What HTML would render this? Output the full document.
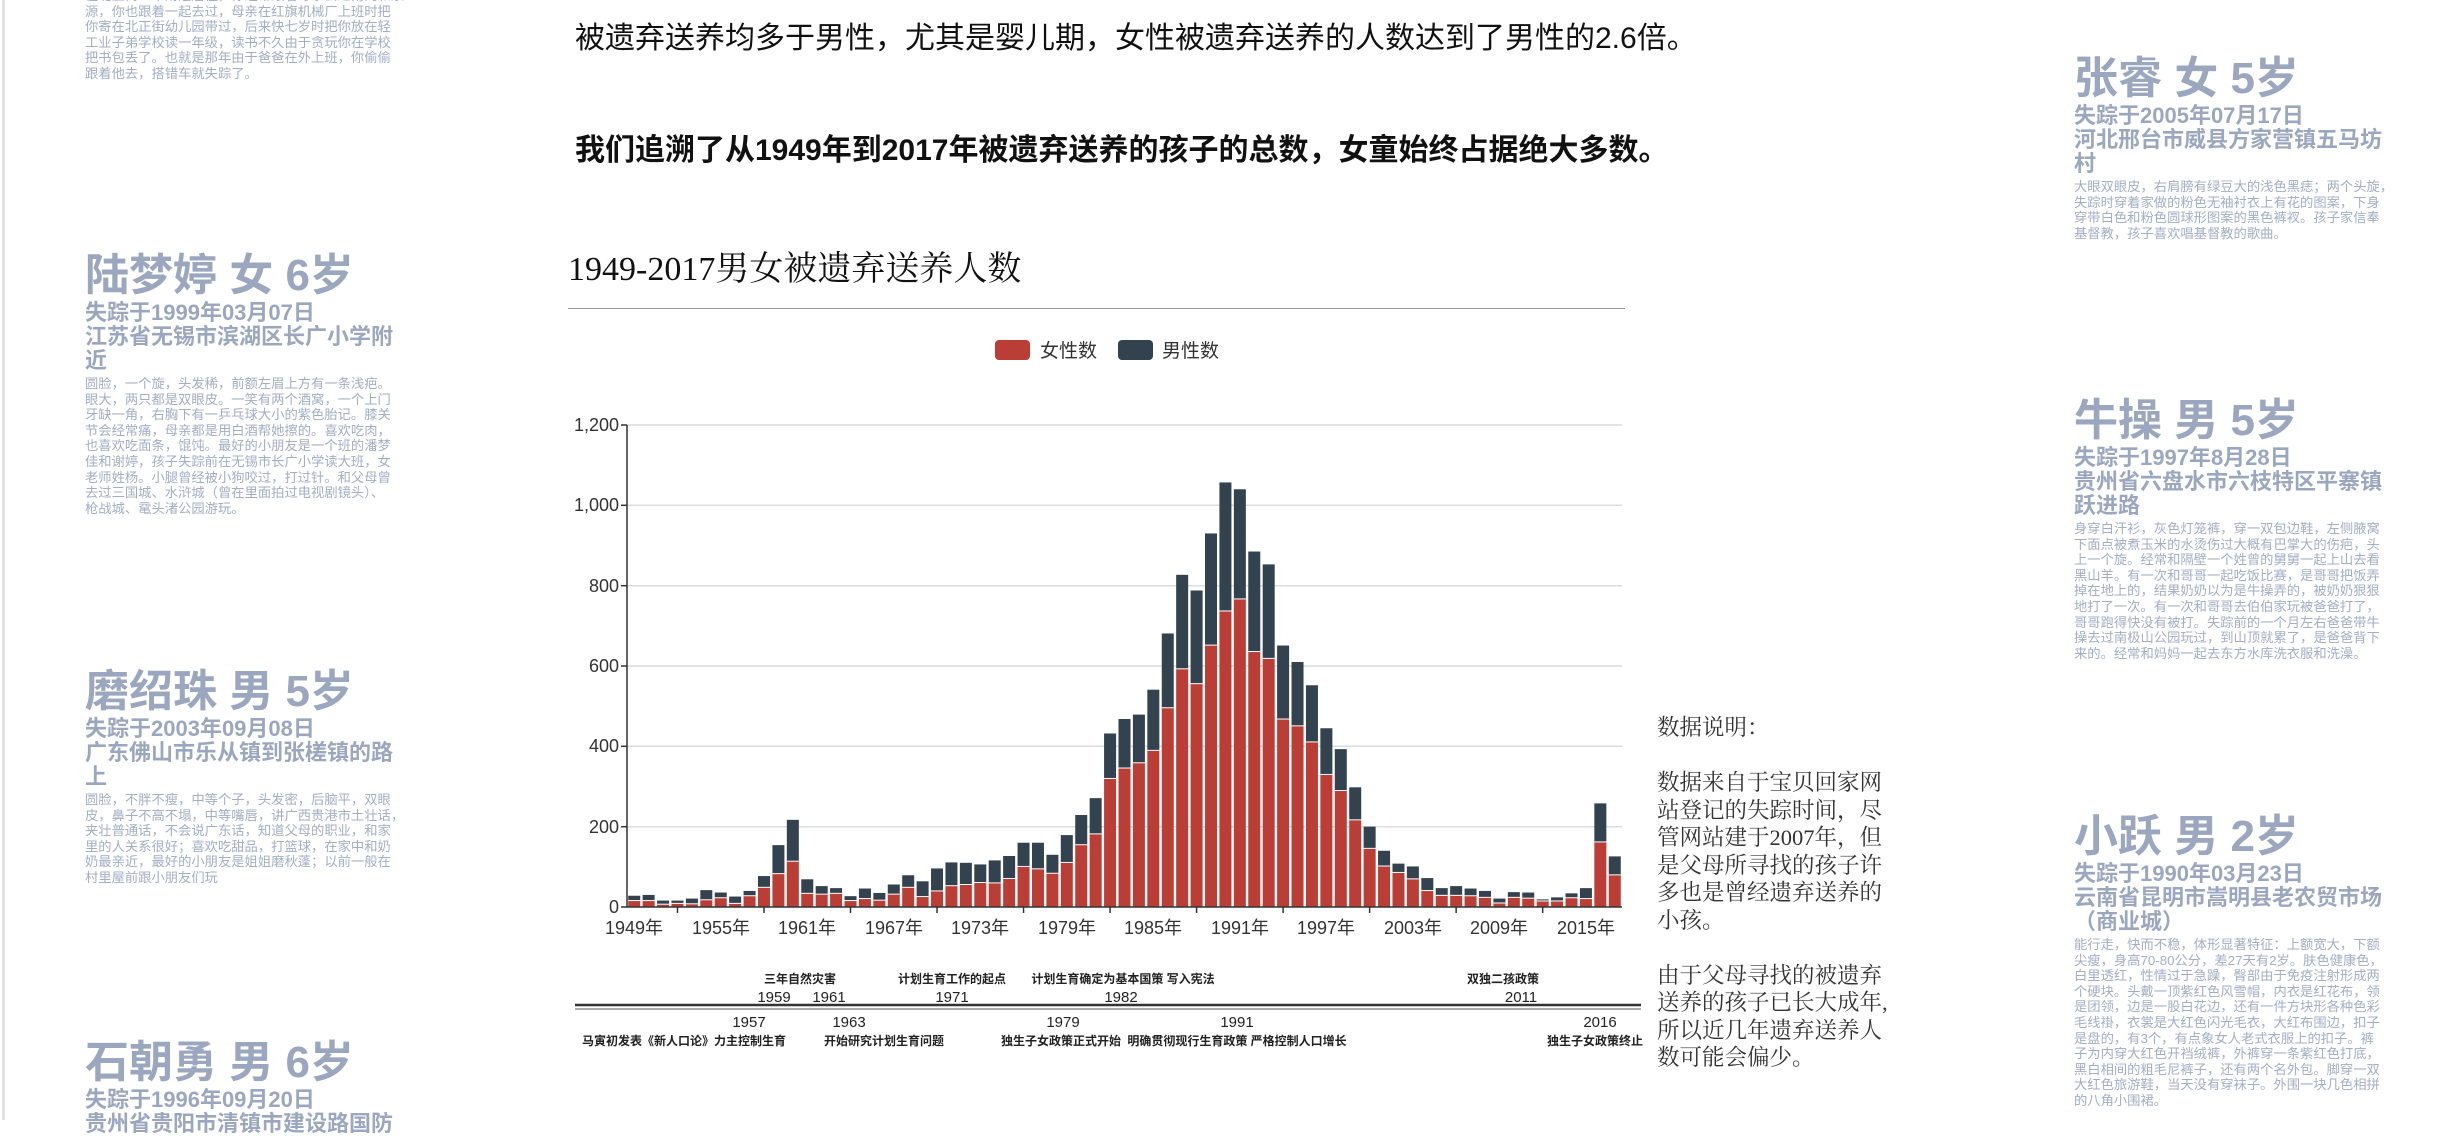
<!DOCTYPE html>
<html><head><meta charset="utf-8">
<style>
html,body{margin:0;padding:0;background:#fff;}
body{width:2462px;height:1120px;position:relative;overflow:hidden;font-family:"Liberation Sans","Noto Sans CJK SC",sans-serif;}
.blk{position:absolute;width:308px;color:#9ba7bf;}
.nm{font-size:44px;font-weight:bold;line-height:50px;white-space:nowrap;}
.sb{font-size:22px;font-weight:bold;line-height:24px;}
.bd{font-size:13.3px;line-height:15.6px;margin-top:3px;color:#a3aec4;white-space:nowrap;}
.main{position:absolute;left:575px;font-size:30px;color:#111;white-space:nowrap;line-height:40px;}
.note{position:absolute;left:1657px;top:714px;font-family:"Liberation Serif","Noto Serif CJK SC",serif;font-size:22.5px;line-height:27.5px;color:#333;white-space:nowrap;}
</style></head><body>
<div style="position:absolute;left:2px;top:0;width:3px;height:1120px;background:#e2e2e2"></div>

<div class="blk" style="left:85px;top:-12px"><div class="bd" style="margin:0">在北正街一带附近居住，你经常跟着母亲去过南门和泉<br>源，你也跟着一起去过，母亲在红旗机械厂上班时把<br>你寄在北正街幼儿园带过，后来快七岁时把你放在轻<br>工业子弟学校读一年级，读书不久由于贪玩你在学校<br>把书包丢了。也就是那年由于爸爸在外上班，你偷偷<br>跟着他去，搭错车就失踪了。</div></div>

<div class="blk" style="left:85px;top:251px"><div class="nm">陆梦婷 女 6岁</div><div class="sb">失踪于1999年03月07日</div><div class="sb">江苏省无锡市滨湖区长广小学附<br>近</div><div class="bd">圆脸，一个旋，头发稀，前额左眉上方有一条浅疤。<br>眼大，两只都是双眼皮。一笑有两个酒窝，一个上门<br>牙缺一角，右胸下有一乒乓球大小的紫色胎记。膝关<br>节会经常痛，母亲都是用白酒帮她擦的。喜欢吃肉，<br>也喜欢吃面条，馄饨。最好的小朋友是一个班的潘梦<br>佳和谢婷，孩子失踪前在无锡市长广小学读大班，女<br>老师姓杨。小腿曾经被小狗咬过，打过针。和父母曾<br>去过三国城、水浒城（曾在里面拍过电视剧镜头）、<br>枪战城、鼋头渚公园游玩。</div></div>

<div class="blk" style="left:85px;top:667px"><div class="nm">磨绍珠 男 5岁</div><div class="sb">失踪于2003年09月08日</div><div class="sb">广东佛山市乐从镇到张槎镇的路<br>上</div><div class="bd">圆脸，不胖不瘦，中等个子，头发密，后脑平，双眼<br>皮，鼻子不高不塌，中等嘴唇，讲广西贵港市土壮话，<br>夹壮普通话，不会说广东话，知道父母的职业，和家<br>里的人关系很好；喜欢吃甜品，打篮球，在家中和奶<br>奶最亲近，最好的小朋友是姐姐磨秋蓬；以前一般在<br>村里屋前跟小朋友们玩</div></div>

<div class="blk" style="left:85px;top:1038px"><div class="nm">石朝勇 男 6岁</div><div class="sb">失踪于1996年09月20日</div><div class="sb">贵州省贵阳市清镇市建设路国防</div></div>

<div class="blk" style="left:2074px;top:54px"><div class="nm">张睿 女 5岁</div><div class="sb">失踪于2005年07月17日</div><div class="sb">河北邢台市威县方家营镇五马坊<br>村</div><div class="bd">大眼双眼皮，右肩膀有绿豆大的浅色黑痣；两个头旋，<br>失踪时穿着家做的粉色无袖衬衣上有花的图案，下身<br>穿带白色和粉色圆球形图案的黑色裤衩。孩子家信奉<br>基督教，孩子喜欢唱基督教的歌曲。</div></div>

<div class="blk" style="left:2074px;top:396px"><div class="nm">牛操 男 5岁</div><div class="sb">失踪于1997年8月28日</div><div class="sb">贵州省六盘水市六枝特区平寨镇<br>跃进路</div><div class="bd">身穿白汗衫，灰色灯笼裤，穿一双包边鞋，左侧腋窝<br>下面点被煮玉米的水烫伤过大概有巴掌大的伤疤，头<br>上一个旋。经常和隔壁一个姓曾的舅舅一起上山去看<br>黑山羊。有一次和哥哥一起吃饭比赛，是哥哥把饭弄<br>掉在地上的，结果奶奶以为是牛操弄的，被奶奶狠狠<br>地打了一次。有一次和哥哥去伯伯家玩被爸爸打了，<br>哥哥跑得快没有被打。失踪前的一个月左右爸爸带牛<br>操去过南极山公园玩过，到山顶就累了，是爸爸背下<br>来的。经常和妈妈一起去东方水库洗衣服和洗澡。</div></div>

<div class="blk" style="left:2074px;top:812px"><div class="nm">小跃 男 2岁</div><div class="sb">失踪于1990年03月23日</div><div class="sb">云南省昆明市嵩明县老农贸市场<br>（商业城）</div><div class="bd">能行走，快而不稳，体形显著特征：上额宽大，下额<br>尖瘦，身高70-80公分，差27天有2岁。肤色健康色，<br>白里透红，性情过于急躁，臀部由于免疫注射形成两<br>个硬块。头戴一顶紫红色风雪帽，内衣是红花布，领<br>是团领，边是一股白花边，还有一件方块形各种色彩<br>毛线褂，衣裳是大红色闪光毛衣，大红布围边，扣子<br>是盘的，有3个，有点象女人老式衣服上的扣子。裤<br>子为内穿大红色开裆绒裤，外裤穿一条紫红色打底，<br>黑白相间的粗毛尼裤子，还有两个名外包。脚穿一双<br>大红色旅游鞋，当天没有穿袜子。外围一块几色相拼<br>的八角小围裙。</div></div>

<div class="main" style="top:19px">被遗弃送养均多于男性，尤其是婴儿期，女性被遗弃送养的人数达到了男性的2.6倍。</div>
<div class="main" style="top:131px;font-weight:bold">我们追溯了从1949年到2017年被遗弃送养的孩子的总数，女童始终占据绝大多数。</div>
<div style="position:absolute;left:568px;top:248px;font-family:'Liberation Serif','Noto Serif CJK SC',serif;font-size:34px;line-height:44px;color:#111;white-space:nowrap">1949-2017男女被遗弃送养人数</div>
<div style="position:absolute;left:568px;top:308px;width:1057px;height:1px;background:#999"></div>

<svg style="position:absolute;left:0;top:0" width="2462" height="1120" font-family="Liberation Sans, Noto Sans CJK SC, sans-serif">
<rect x="995" y="340" width="35" height="20" rx="4" fill="#bb3e36"/>
<text x="1040" y="357" font-size="19" fill="#333">女性数</text>
<rect x="1118" y="340" width="35" height="20" rx="4" fill="#33424f"/>
<text x="1162" y="357" font-size="19" fill="#333">男性数</text>
<g stroke="#dcdcdc" stroke-width="1.5">
<line x1="627" y1="425" x2="1622" y2="425"/><line x1="627" y1="505.3" x2="1622" y2="505.3"/><line x1="627" y1="585.7" x2="1622" y2="585.7"/><line x1="627" y1="666" x2="1622" y2="666"/><line x1="627" y1="746.3" x2="1622" y2="746.3"/><line x1="627" y1="826.7" x2="1622" y2="826.7"/>
</g>
<g id="bars"></g>
<g stroke="#333" stroke-width="1.5">
<line x1="627" y1="425" x2="627" y2="907"/><line x1="627" y1="907" x2="1622" y2="907"/>
<line x1="621" y1="425" x2="627" y2="425"/><line x1="621" y1="505.3" x2="627" y2="505.3"/><line x1="621" y1="585.7" x2="627" y2="585.7"/><line x1="621" y1="666" x2="627" y2="666"/><line x1="621" y1="746.3" x2="627" y2="746.3"/><line x1="621" y1="826.7" x2="627" y2="826.7"/><line x1="621" y1="907" x2="627" y2="907"/>
</g>
<g id="ticks" stroke="#333" stroke-width="1.5"></g>
<g font-size="18" fill="#333" text-anchor="end">
<text x="619" y="431">1,200</text><text x="619" y="511">1,000</text><text x="619" y="592">800</text><text x="619" y="672">600</text><text x="619" y="752">400</text><text x="619" y="833">200</text><text x="619" y="913">0</text>
</g>
<g font-size="18" fill="#333" text-anchor="middle">
<text x="634" y="934">1949年</text><text x="721" y="934">1955年</text><text x="807" y="934">1961年</text><text x="894" y="934">1967年</text><text x="980" y="934">1973年</text><text x="1067" y="934">1979年</text><text x="1153" y="934">1985年</text><text x="1240" y="934">1991年</text><text x="1326" y="934">1997年</text><text x="1413" y="934">2003年</text><text x="1499" y="934">2009年</text><text x="1586" y="934">2015年</text>
</g>
<line x1="575" y1="1005" x2="1641" y2="1005" stroke="#333" stroke-width="2.5"/>
<line x1="575" y1="1009" x2="1641" y2="1009" stroke="#555" stroke-width="1"/>
<g font-size="12" font-weight="bold" fill="#222" text-anchor="middle">
<text x="800" y="983">三年自然灾害</text><text x="952" y="983">计划生育工作的起点</text><text x="1123" y="983">计划生育确定为基本国策 写入宪法</text><text x="1503" y="983">双独二孩政策</text>
<text x="684" y="1045">马寅初发表《新人口论》力主控制生育</text><text x="884" y="1045">开始研究计划生育问题</text><text x="1061" y="1045">独生子女政策正式开始</text><text x="1237" y="1045">明确贯彻现行生育政策 严格控制人口增长</text><text x="1595" y="1045">独生子女政策终止</text>
</g>
<g font-size="15" fill="#222" text-anchor="middle">
<text x="774" y="1002">1959</text><text x="829" y="1002">1961</text><text x="952" y="1002">1971</text><text x="1121" y="1002">1982</text><text x="1521" y="1002">2011</text>
<text x="749" y="1027">1957</text><text x="849" y="1027">1963</text><text x="1063" y="1027">1979</text><text x="1237" y="1027">1991</text><text x="1600" y="1027">2016</text>
</g>
</svg>

<div class="note">数据说明：<br><br>数据来自于宝贝回家网<br>站登记的失踪时间，尽<br>管网站建于2007年，但<br>是父母所寻找的孩子许<br>多也是曾经遗弃送养的<br>小孩。<br><br>由于父母寻找的被遗弃<br>送养的孩子已长大成年,<br>所以近几年遗弃送养人<br>数可能会偏少。</div>

<script>
var tot=[28,30,16,16,21,42,36,26,40,77,154,217,69,52,47,27,46,35,56,79,64,96,111,110,106,116,127,160,160,130,179,229,271,432,468,479,541,681,827,788,930,1057,1040,885,853,651,610,552,445,393,298,200,140,108,101,72,47,52,46,40,21,37,36,19,24,34,47,258,126];
var fem=[16,16,7,9,8,18,23,9,28,49,83,114,34,32,34,16,21,17,32,49,26,40,53,56,61,60,71,101,95,84,111,155,182,320,346,359,390,496,593,556,652,737,767,636,619,468,451,411,330,290,217,146,102,86,70,41,29,29,28,24,10,24,22,15,15,23,21,162,80];
var ns="http://www.w3.org/2000/svg",g=document.getElementById("bars"),tk=document.getElementById("ticks");
var bw=14.42,k=482/1200,b=907;
function r(x,y,w,h,c){var e=document.createElementNS(ns,"rect");e.setAttribute("x",x);e.setAttribute("y",y);e.setAttribute("width",w);e.setAttribute("height",h);e.setAttribute("fill",c);g.appendChild(e);}
for(var i=0;i<69;i++){var cx=627+bw*(i+0.5),x=cx-6;
var ht=tot[i]*k,hf=fem[i]*k;
r(x,b-ht,12,ht-hf,"#33424f");r(x,b-hf,12,hf,"#bb3e36");
r(x,b-hf-0.5,12,1,"#ffffff");}
for(var j=3;j<69;j+=6){var l=document.createElementNS(ns,"line"),tx=627+bw*(j+0.5);l.setAttribute("x1",tx);l.setAttribute("x2",tx);l.setAttribute("y1",907);l.setAttribute("y2",913);tk.appendChild(l);}
</script>
</body></html>
